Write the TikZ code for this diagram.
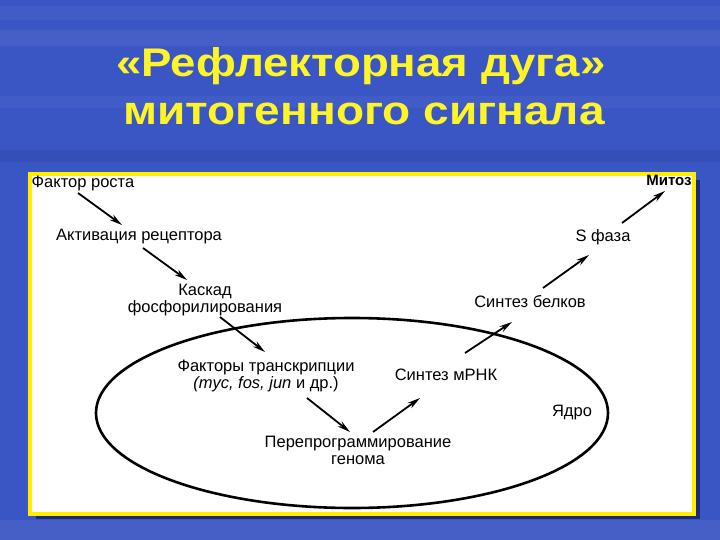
\documentclass[tikz,border=0pt]{standalone}
\usepackage{fontspec}
\usepackage{graphicx}
\setmainfont{Liberation Sans}
\usetikzlibrary{arrows.meta,calc}
\definecolor{slideblue}{RGB}{58,86,196}
\definecolor{slidedark}{RGB}{28,40,120}
\definecolor{titleyellow}{RGB}{255,244,40}
\definecolor{frameyellow}{RGB}{255,238,0}

\begin{document}
\begin{tikzpicture}[x=1pt,y=-1pt,
  every node/.style={font=\fontsize{16.5}{17}\selectfont, inner sep=0pt, align=center},
  arr/.style={-{Stealth[length=13pt,width=6.5pt]}, line width=1.8pt},
  ttl/.style={font=\fontsize{40}{44}\selectfont\bfseries, anchor=base, text=titleyellow}]
  % background of the slide
  \fill[slideblue] (0,0) rectangle (720,540);
  \fill[white,opacity=0.04] (0,6) rectangle (720,20);
  \fill[white,opacity=0.06] (0,30) rectangle (720,46);
  \fill[white,opacity=0.04] (0,96) rectangle (720,108);
  \fill[slidedark,opacity=0.15] (0,150) rectangle (720,162);
  \fill[white,opacity=0.06] (0,520) rectangle (720,540);
  % title
  \node[ttl] (t1) at (361,77) {\scalebox{1.14}[1]{«Рефлекторная дуга»}};
  \node[ttl] (t2) at (364,125) {\scalebox{1.15}[1]{митогенного сигнала}};
  % framed panel
  \fill[slidedark] (36,180) rectangle (700,519);
  \draw[frameyellow, line width=4.5pt, fill=white] (30,174) rectangle (694,514);
  % nucleus
  \draw[line width=2.6pt] (352,413) ellipse [x radius=256, y radius=95];
  % labels
  \node (fr) at (83,183) {Фактор роста};
  \node (ar) at (139,237) {Активация рецептора};
  \node (kf) at (205,300) {Каскад\\фосфорилирования};
  \node (tf) at (266,376) {Факторы транскрипции\\\textit{(myc, fos, jun} и др.)};
  \node (rg) at (358,450) {Перепрограммирование\\генома};
  \node (mr) at (446,375) {Синтез мРНК};
  \node (sb) at (530,302) {Синтез белков};
  \node (sp) at (603,237) {S фаза};
  \node[font=\fontsize{15}{17}\selectfont\bfseries] (mt) at (669,180) {Митоз};
  \node (nu) at (572,413) {Ядро};
  % arrows of the arc
  \draw[arr] ($(fr)+(-5,10)$) -- ($(ar)+(-17,-12)$);
  \draw[arr] ($(ar)+(4,11)$) -- ($(kf)+(-18,-20)$);
  \draw[arr] ($(kf)+(15,17)$) -- ($(tf)+(-1,-24)$);
  \draw[arr] ($(tf)+(41,22)$) -- ($(rg)+(-8,-18)$);
  \draw[arr] ($(rg)+(15,-18)$) -- ($(mr)+(-26,23)$);
  \draw[arr] ($(mr)+(19,-22)$) -- ($(sb)+(-18,20)$);
  \draw[arr] ($(sb)+(13,-14)$) -- ($(sp)+(-14,18)$);
  \draw[arr] ($(sp)+(19,-14)$) -- ($(mt)+(-4,11)$);
\end{tikzpicture}
\end{document}
